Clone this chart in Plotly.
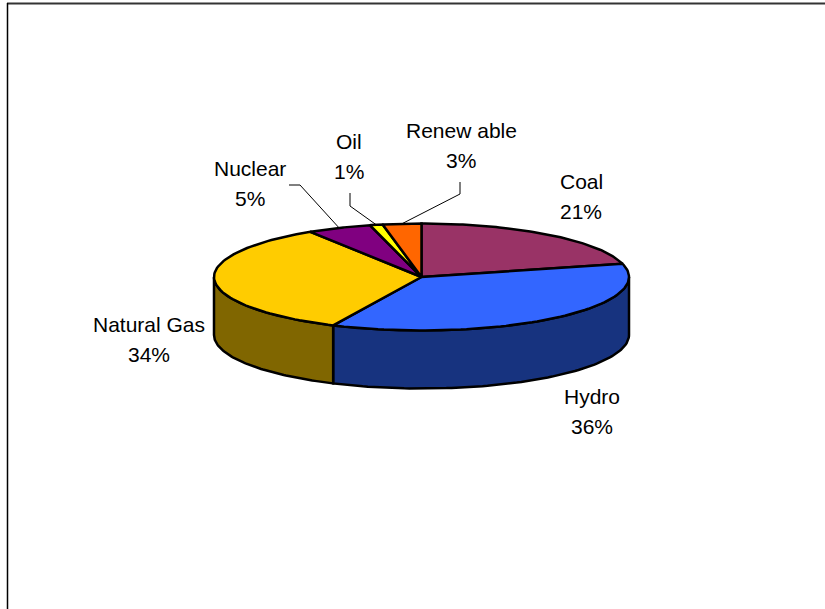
import numpy as np
import plotly.graph_objects as go

# Shares of generation, clockwise from 12 o'clock
categories = ["Coal", "Hydro", "Natural Gas", "Nuclear", "Oil", "Renewable"]
display_names = ["Coal", "Hydro", "Natural Gas", "Nuclear", "Oil", "Renew able"]
shares = [21, 36, 34, 5, 1, 3]
top_colors = ["#993366", "#3366FF", "#FFCC00", "#800080", "#FFFF00", "#FF6600"]
side_colors = ["#4D1A33", "#17337F", "#806600", "#400040", "#808000", "#803300"]

# Pie geometry, in page pixels
cx, cy = 421.5, 277
rx, ry = 207.5, 53.5
depth = 58

# Label centres (name line) and the elbow of leader lines
label_pos = [(581, 181), (592, 396), (149, 324), (250, 168), (349, 141), (461, 130)]
leaders = {3: [(289, 185), (300, 185)], 4: [(350, 193), (350, 206)], 5: [(460, 182), (460, 194)]}


def rim(deg):
    a = np.radians(deg)
    return cx + rx * np.sin(a), cy - ry * np.cos(a)


edges = np.cumsum([0] + shares) / sum(shares) * 360
fig = go.Figure()

# Side walls, only the front half of the rim shows
for i, name in enumerate(categories):
    a0, a1 = max(edges[i], 90), min(edges[i + 1], 270)
    if a1 <= a0:
        continue
    x, y = rim(np.linspace(a0, a1, 80))
    fig.add_trace(go.Scatter(
        x=np.r_[x, x[::-1], x[0]], y=np.r_[y, y[::-1] + depth, y[0]],
        mode="lines", fill="toself", fillcolor=side_colors[i],
        line=dict(color="black", width=2.5), hoverinfo="skip", showlegend=False))

# Top faces
for i, name in enumerate(categories):
    x, y = rim(np.linspace(edges[i], edges[i + 1], 80))
    fig.add_trace(go.Scatter(
        x=np.r_[cx, x, cx], y=np.r_[cy, y, cy],
        mode="lines", fill="toself", fillcolor=top_colors[i],
        line=dict(color="black", width=2.5), name=name,
        text=f"{name} {shares[i]}%", hoverinfo="text", showlegend=False))

# Leader lines run from the label to the middle of the slice rim
for i, pts in leaders.items():
    ex, ey = rim((edges[i] + edges[i + 1]) / 2)
    fig.add_trace(go.Scatter(
        x=[p[0] for p in pts] + [float(ex)], y=[p[1] for p in pts] + [float(ey)],
        mode="lines", line=dict(color="black", width=1), hoverinfo="skip", showlegend=False))

font = dict(family="Liberation Sans, Arial, sans-serif", size=21, color="black")
for i, (lx, ly) in enumerate(label_pos):
    fig.add_annotation(x=lx, y=ly, text=display_names[i], showarrow=False, font=font)
    fig.add_annotation(x=lx, y=ly + 30, text=f"{shares[i]}%", showarrow=False, font=font)

# Chart frame, only top and left edges are in view
fig.add_shape(type="line", x0=7, x1=825, y0=3.5, y1=3.5, line=dict(color="#333333", width=2))
fig.add_shape(type="line", x0=7.5, x1=7.5, y0=3, y1=609, line=dict(color="black", width=1.5))

fig.update_layout(
    width=825, height=609,
    margin=dict(l=0, r=0, t=0, b=0),
    paper_bgcolor="white", plot_bgcolor="white",
    xaxis=dict(range=[0, 825], visible=False),
    yaxis=dict(range=[609, 0], visible=False),
)

# The page body has a default 8px margin that would push the plot off
fig.write_html("out.html", config={"displayModeBar": False},
               post_script="document.body.style.margin = '0';")
